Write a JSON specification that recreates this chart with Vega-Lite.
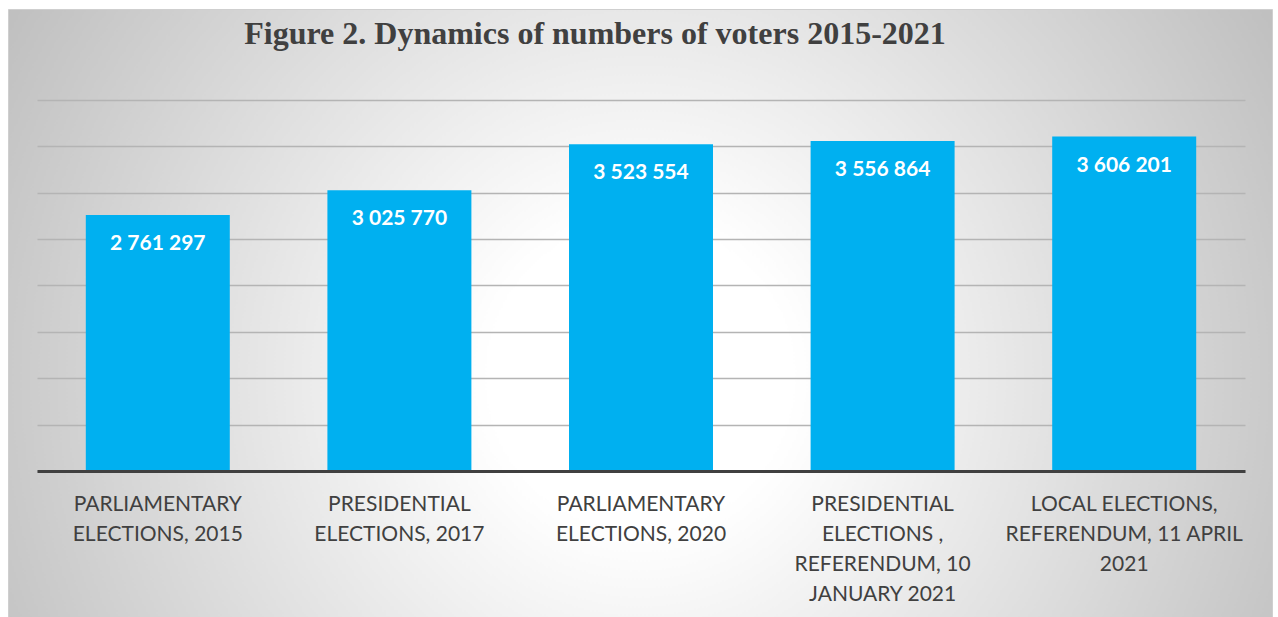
{
  "$schema": "https://vega.github.io/schema/vega-lite/v6.json",
  "width": 1264,
  "height": 608,
  "autosize": {"type": "none"},
  "padding": {"left": 8, "top": 9, "right": 6, "bottom": 0},
  "background": "#ffffff",
  "title": {
    "text": "Figure 2. Dynamics of numbers of voters  2015-2021",
    "font": "Liberation Serif",
    "fontSize": 32,
    "fontWeight": "bold",
    "color": "#404040",
    "anchor": "middle",
    "frame": "group",
    "baseline": "alphabetic",
    "offset": 0,
    "dx": -45,
    "dy": 67
  },
  "config": {
    "locale": {"number": {"decimal": ".", "thousands": " ", "grouping": [3], "currency": ["", ""]}},
    "view": {
      "stroke": "#cfcfcf",
      "strokeWidth": 1,
      "fill": {
        "gradient": "radial",
        "x1": 0.5, "y1": 0.55, "r1": 0,
        "x2": 0.5, "y2": 0.55, "r2": 0.6,
        "stops": [
          {"offset": 0, "color": "#ffffff"},
          {"offset": 0.2, "color": "#ffffff"},
          {"offset": 1, "color": "#bcbcbc"}
        ]
      }
    }
  },
  "data": {
    "values": [
      {"election": "PARLIAMENTARY\nELECTIONS, 2015", "voters": 2761297},
      {"election": "PRESIDENTIAL\nELECTIONS, 2017", "voters": 3025770},
      {"election": "PARLIAMENTARY\nELECTIONS, 2020", "voters": 3523554},
      {"election": "PRESIDENTIAL\nELECTIONS ,\nREFERENDUM, 10\nJANUARY 2021", "voters": 3556864},
      {"election": "LOCAL ELECTIONS,\nREFERENDUM, 11 APRIL\n2021", "voters": 3606201}
    ]
  },
  "encoding": {
    "x": {
      "field": "election",
      "type": "nominal",
      "sort": null,
      "scale": {"range": [29, 1237], "paddingInner": 0.404, "paddingOuter": 0.202},
      "axis": {
        "title": null,
        "orient": "bottom",
        "offset": -146,
        "labelAngle": 0,
        "labelExpr": "split(datum.label, '\\n')",
        "labelFont": "Lato",
        "labelFontSize": 21,
        "labelColor": "#404040",
        "labelLineHeight": 30,
        "labelPadding": 22,
        "labelLimit": 0,
        "ticks": false,
        "tickSize": 0,
        "domain": true,
        "domainColor": "#404040",
        "domainWidth": 3,
        "grid": false,
        "zindex": 1
      }
    },
    "y": {
      "field": "voters",
      "type": "quantitative",
      "scale": {"domain": [-1574124, 4981132], "nice": false, "zero": false},
      "axis": {
        "title": null,
        "labels": false,
        "ticks": false,
        "domain": false,
        "grid": true,
        "gridColor": "#b4b4b4",
        "gridWidth": 1.3,
        "values": [0, 500000, 1000000, 1500000, 2000000, 2500000, 3000000, 3500000, 4000000]
      }
    }
  },
  "layer": [
    {"mark": {"type": "bar", "color": "#00b0f0"}},
    {
      "mark": {"type": "text", "color": "#ffffff", "font": "Lato", "fontSize": 21, "fontWeight": "bold", "baseline": "alphabetic", "align": "center", "dy": 35},
      "encoding": {"text": {"field": "voters", "type": "quantitative", "format": ",d"}}
    }
  ]
}
